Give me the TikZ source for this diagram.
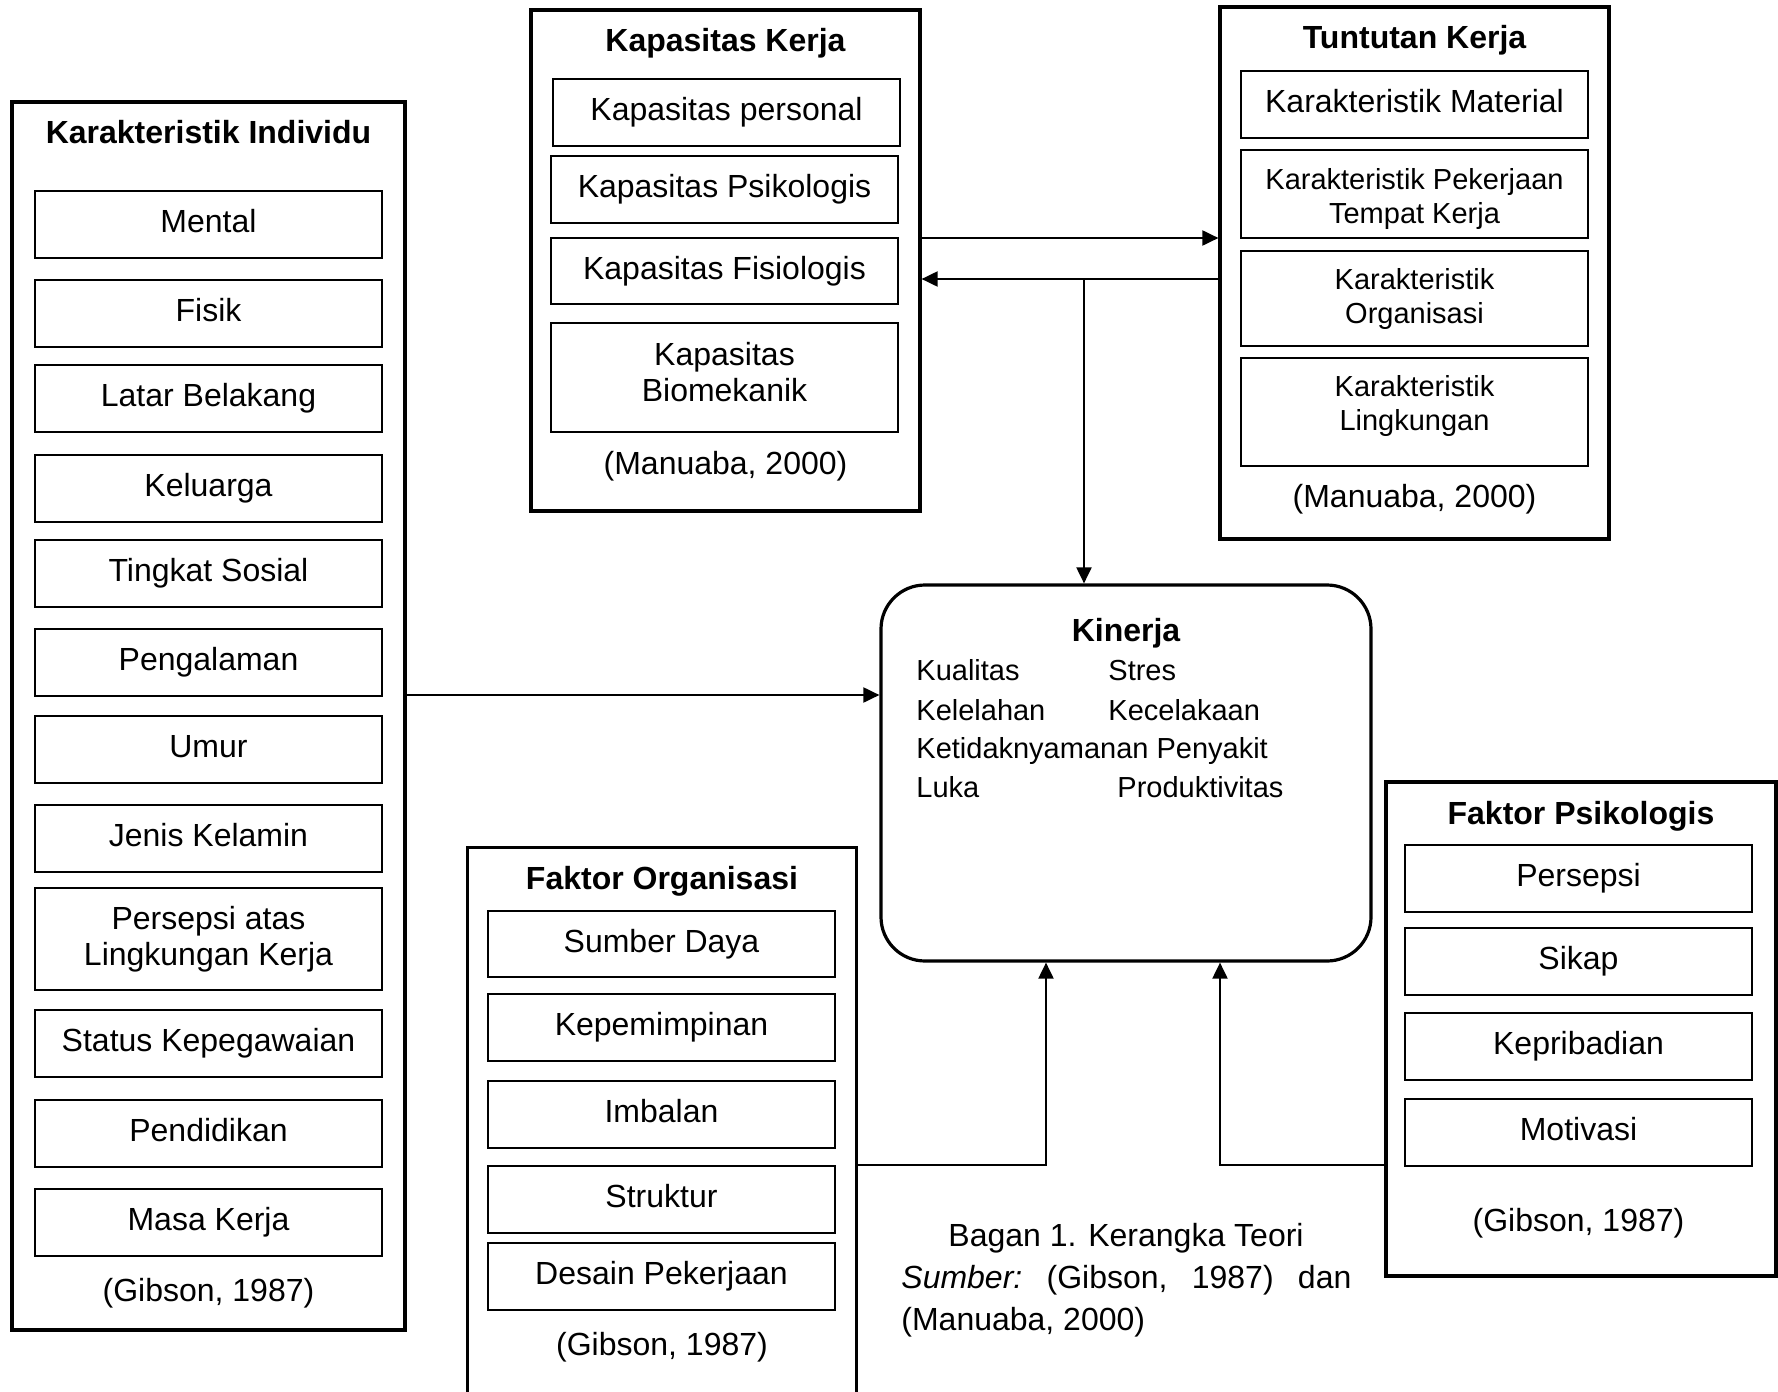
\documentclass[tikz,border=0pt]{standalone}
\usepackage{fontspec}
\setmainfont{Liberation Sans}
\usetikzlibrary{arrows.meta}
\begin{document}
\begin{tikzpicture}[x=0.5pt,y=-0.5pt,
  obox/.style={draw, line width=1.6pt, inner sep=0pt},
  ibox/.style={draw, line width=1pt, minimum width=173.5pt, minimum height=33.5pt, align=center, inner sep=0pt, font=\fontsize{16}{18}\selectfont},
  ione/.style={ibox, text height=11.5pt, text depth=3.5pt},
  sbox/.style={ibox, font=\fontsize{14.5}{17}\selectfont},
  btext/.style={font=\fontsize{16}{18}\selectfont, align=center, inner sep=0pt},
  stext/.style={font=\fontsize{14.5}{17}\selectfont, align=center, inner sep=0pt},
  ttl/.style={font=\fontsize{16}{18}\selectfont\bfseries, inner sep=0pt},
  cite/.style={font=\fontsize{16}{18}\selectfont, inner sep=0pt},
  kitem/.style={font=\fontsize{14.5}{17}\selectfont, inner sep=0pt, anchor=base west},
  arr/.style={line width=1pt, -{Triangle[length=8pt,width=7.5pt]}}]
\path[use as bounding box, fill=white] (0,0) rectangle (1778,1392);

% Karakteristik Individu
\node[obox, minimum width=196.5pt, minimum height=614pt] (KI) at (208.5,716) {};
\node[ttl] (KIt) at (208.5,132) {Karakteristik Individu};
\node[ione] (ki1) at (208.5,224.5) {Mental};
\node[ione] (ki2) at (208.5,313) {Fisik};
\node[ione] (ki3) at (208.5,398.5) {Latar Belakang};
\node[ione] (ki4) at (208.5,488.5) {Keluarga};
\node[ione] (ki5) at (208.5,573.5) {Tingkat Sosial};
\node[ione] (ki6) at (208.5,662.5) {Pengalaman};
\node[ione] (ki7) at (208.5,749) {Umur};
\node[ione] (ki8) at (208.5,838.5) {Jenis Kelamin};
\node[ibox, minimum height=51pt] (ki9) at (208.5,939) {Persepsi atas\\Lingkungan Kerja};
\node[ione] (ki10) at (208.5,1043.5) {Status Kepegawaian};
\node[ione] (ki11) at (208.5,1133.5) {Pendidikan};
\node[ione] (ki12) at (208.5,1222.5) {Masa Kerja};
\node[cite] (kic) at (208.5,1293) {(Gibson, 1987)};

% Kapasitas Kerja
\node[obox, minimum width=194.5pt, minimum height=250.5pt] (KK) at (725.5,260.5) {};
\node[ttl] (KKt) at (725.5,43) {Kapasitas Kerja};
\node[ione] (kk1) at (726.5,112.5) {Kapasitas personal};
\node[ione] (kk2) at (724.5,189.5) {Kapasitas Psikologis};
\node[ione, minimum height=33pt] (kk3) at (724.5,271) {Kapasitas Fisiologis};
\node[ibox, minimum height=54.5pt] (kk4) at (724.5,377.5) {};
\node[btext] (kk4t) at (724.5,372) {Kapasitas\\Biomekanik};
\node[cite] (kkc) at (725.5,466.5) {(Manuaba, 2000)};

% Tuntutan Kerja
\node[obox, minimum width=194.5pt, minimum height=266pt] (TK) at (1414.5,273) {};
\node[ttl] (TKt) at (1414.5,40) {Tuntutan Kerja};
\node[ione] (tk1) at (1414.5,104.5) {Karakteristik Material};
\node[sbox, minimum height=44pt] (tk2) at (1414.5,194) {};
\node[stext] (tk2t) at (1414.5,198.5) {Karakteristik Pekerjaan\\Tempat Kerja};
\node[sbox, minimum height=47.5pt] (tk3) at (1414.5,298.5) {Karakteristik\\Organisasi};
\node[sbox, minimum height=54pt] (tk4) at (1414.5,412) {};
\node[stext] (tk4t) at (1414.5,405.5) {Karakteristik\\Lingkungan};
\node[cite] (tkc) at (1414.5,499) {(Manuaba, 2000)};

% Kinerja
\node[draw, line width=1.6pt, rounded corners=22pt, minimum width=245pt, minimum height=188pt, inner sep=0pt] (KN) at (1126,773) {};
\node[ttl] (KNt) at (1126,633) {Kinerja};
\node[kitem] (kn1) at (916,680) {Kualitas};
\node[kitem] (kn2) at (1108,680) {Stres};
\node[kitem] (kn3) at (916,720) {Kelelahan};
\node[kitem] (kn4) at (1108,720) {Kecelakaan};
\node[kitem] (kn5) at (916,758) {Ketidaknyamanan Penyakit};
\node[kitem] (kn6) at (916,797) {Luka};
\node[kitem] (kn7) at (1117,797) {Produktivitas};

% Faktor Organisasi (open at the bottom)
\node[inner sep=0pt, minimum width=194pt, minimum height=276pt] (FO) at (662,1124) {};
\draw[line width=1.6pt] (FO.south west) -- (FO.north west) -- (FO.north east) -- (FO.south east);
\node[ttl] (FOt) at (662,881) {Faktor Organisasi};
\node[ione, minimum height=33pt] (fo1) at (661.5,944) {Sumber Daya};
\node[ione] (fo2) at (661.5,1027.5) {Kepemimpinan};
\node[ione] (fo3) at (661.5,1114.5) {Imbalan};
\node[ione] (fo4) at (661.5,1199.5) {Struktur};
\node[ione] (fo5) at (661.5,1276.5) {Desain Pekerjaan};
\node[cite] (foc) at (662,1347) {(Gibson, 1987)};

% Faktor Psikologis
\node[obox, minimum width=195pt, minimum height=247pt] (FP) at (1581,1029) {};
\node[ttl] (FPt) at (1581,816) {Faktor Psikologis};
\node[ione] (fp1) at (1578.5,878.5) {Persepsi};
\node[ione] (fp2) at (1578.5,961.5) {Sikap};
\node[ione] (fp3) at (1578.5,1046.5) {Kepribadian};
\node[ione] (fp4) at (1578.5,1132.5) {Motivasi};
\node[cite] (fpc) at (1578.5,1223) {(Gibson, 1987)};

% Caption
\node[cite] (cap1) at (1126,1238) {Bagan 1. Kerangka Teori};
\node[cite, anchor=west] (cap2) at (901,1280) {\hbox to 225pt{\textit{Sumber:}\hfill(Gibson,\hfill 1987)\hfill dan}};
\node[cite, anchor=west] (cap3) at (901,1322) {(Manuaba, 2000)};

% Connectors
\coordinate (r1) at (0,238);
\coordinate (r2) at (1084,279);
\coordinate (r3) at (0,695);
\coordinate (r4) at (1046,1165);
\coordinate (r5) at (1220,1165);
\draw[arr] (KK.east |- r1) -- (TK.west |- r1);
\draw[arr] (TK.west |- r2) -- (KK.east |- r2);
\draw[arr] (r2) -- (r2 |- KN.north);
\draw[arr] (KI.east |- r3) -- (KN.west |- r3);
\draw[arr] (FO.east |- r4) -- (r4) -- (r4 |- KN.south);
\draw[arr] (FP.west |- r5) -- (r5) -- (r5 |- KN.south);
\end{tikzpicture}
\end{document}
